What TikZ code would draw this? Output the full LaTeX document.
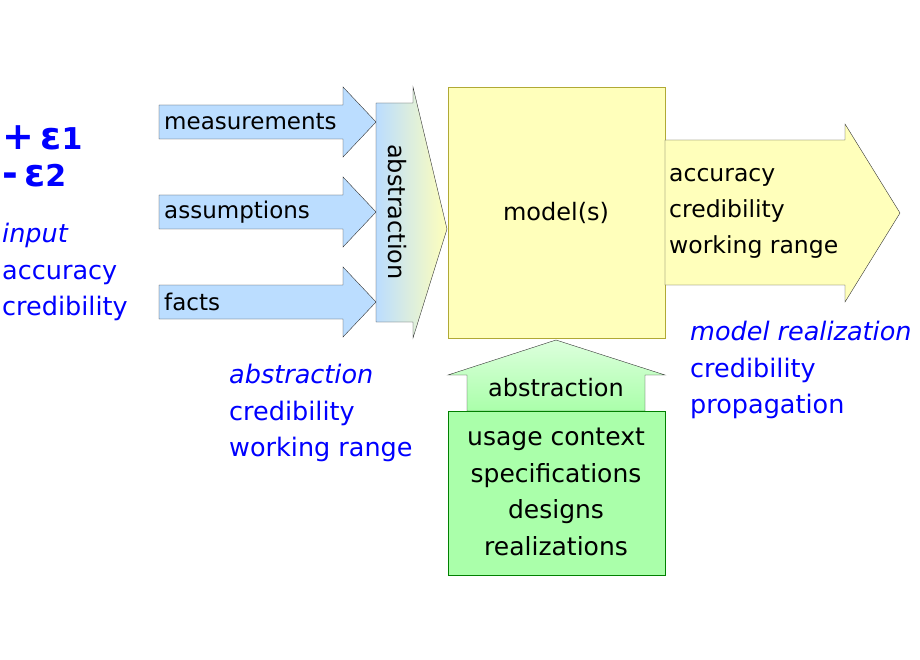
\documentclass[tikz,border=0pt]{standalone}
\usepackage{fontspec}
\setmainfont{DejaVu Sans}
\definecolor{inblue}{RGB}{187,221,255}
\definecolor{modyel}{RGB}{255,255,187}
\definecolor{usegreen}{RGB}{170,255,170}
\begin{document}
\begin{tikzpicture}[x=1pt,y=-1pt,
  blab/.style={text=blue,align=left,anchor=north west,font=\fontsize{25.5}{36.5}\selectfont},
  inarrow/.style={fill=inblue,draw=black!80,thin}]
\useasboundingbox (0,0) rectangle (920,660);
% input arrows
\foreach \y/\name/\txt in {122/meas/measurements,212/assum/assumptions,302/fact/facts}{
\draw[inarrow] (159,\y-17) -- (343,\y-17) -- (343,\y-35) -- (376,\y) -- (343,\y+35) -- (343,\y+17) -- (159,\y+17) -- cycle;
\node[anchor=west,font=\fontsize{23}{26}\selectfont,inner sep=3pt] (\name) at (161,\y) {\txt};
}
% abstraction arrow
\draw[left color=inblue,right color=modyel,draw=black!80,thin]
 (376,103) -- (413,103) -- (413,87) -- (447,229) -- (413,338) -- (413,322) -- (376,322) -- cycle;
\node[rotate=-90,font=\fontsize{24}{26}\selectfont] (abs1) at (397,212) {abstraction};
% model
\draw[fill=modyel,draw=olive!70] (448,87) rectangle (665,338);
\node[font=\fontsize{24}{26}\selectfont] (model) at (556,213) {model(s)};
% output arrow
\draw[fill=modyel,draw=black!80,thin] (665,140) -- (845,140) -- (845,124) -- (900,213) -- (845,302) -- (845,285) -- (665,285) -- cycle;
\node[anchor=west,align=left,font=\fontsize{23.5}{36}\selectfont,inner sep=2pt] (out) at (667,213) {accuracy\\credibility\\working range};
% usage arrow
\draw[top color=usegreen!40,bottom color=usegreen,draw=black!80,thin]
 (467,411) -- (467,375) -- (448,375) -- (556,340) -- (665,375) -- (645,375) -- (645,411) -- cycle;
\node[font=\fontsize{24}{26}\selectfont] (abs2) at (556,388) {abstraction};
\draw[fill=usegreen,draw=green!50!black] (448,411) rectangle (665,575);
\node[align=center,font=\fontsize{25}{36.5}\selectfont] (usage) at (556,492) {usage context\\specifications\\designs\\realizations};
% blue annotations
\node[text=blue,anchor=west,font=\bfseries\fontsize{38}{38}\selectfont,inner sep=0pt] (eps1) at (2,138) {+\,ε\fontsize{30}{30}\selectfont1};
\node[text=blue,anchor=west,font=\bfseries\fontsize{38}{38}\selectfont,inner sep=0pt] (eps2) at (2,176) {-\,ε\fontsize{30}{30}\selectfont2};
\node[blab,inner sep=0pt] (inp) at (2,223) {\itshape input\\accuracy\\credibility};
\node[blab,inner sep=0pt] (absl) at (229,364) {\itshape abstraction\\credibility\\working range};
\node[blab,inner sep=0pt] (real) at (690,321) {\itshape model realization\\credibility\\propagation};
\end{tikzpicture}
\end{document}
